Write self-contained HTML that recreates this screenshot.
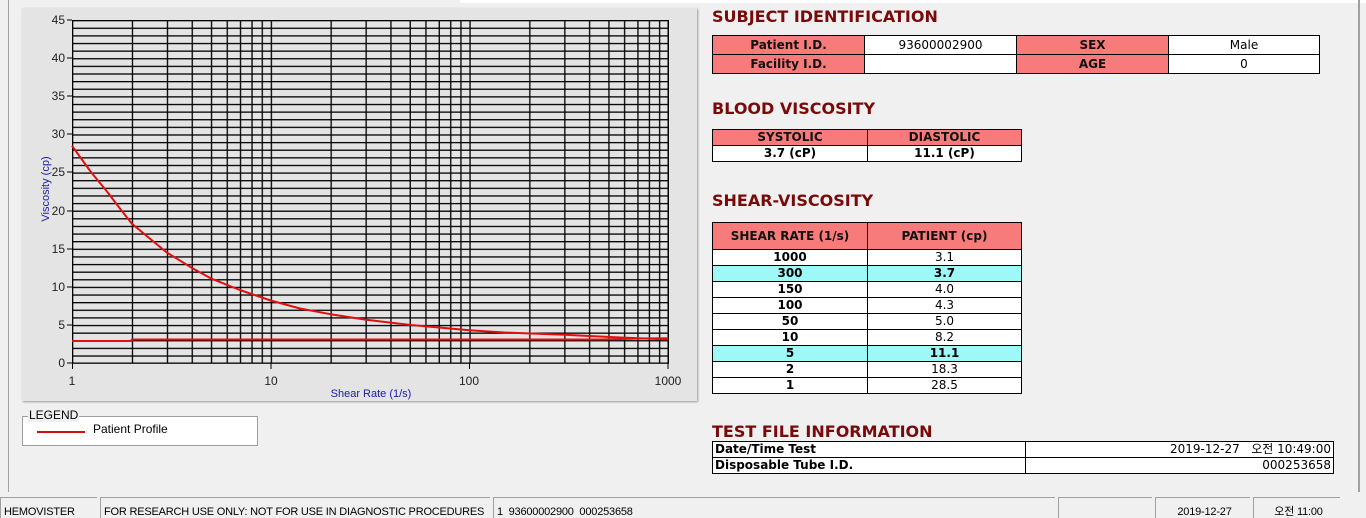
<!DOCTYPE html>
<html><head><meta charset="utf-8"><style>
body{margin:0;width:1366px;height:518px;background:#f0f0f0;position:relative;overflow:hidden;font-family:"Liberation Sans","Noto Sans CJK KR",sans-serif;}
.abs{position:absolute}
.h{position:absolute;color:#7a0a0a;font-weight:bold;font-size:16px;font-family:"DejaVu Sans","Liberation Sans",sans-serif;}
table{position:absolute;border-collapse:collapse;font-size:12px;font-family:"DejaVu Sans","Liberation Sans",sans-serif}
td{border:1px solid #000;padding:0;text-align:center;line-height:13px}
.p{background:#f77b7b;font-weight:bold;color:#111}
.w{background:#fff}
.c td{background:#9ff8f8;font-weight:bold}
.s td{height:15px}
.sb{position:absolute;top:497px;height:21px;border-top:1px solid #a0a0a0;border-left:1px solid #a0a0a0;font-size:11px;letter-spacing:-0.2px;line-height:28px;padding-left:3px;box-sizing:border-box;white-space:nowrap;overflow:hidden}
</style></head><body>
<div class="abs" style="left:460px;top:0;width:906px;height:3px;background:#fff"></div>
<div class="abs" style="left:8px;top:0;width:1px;height:492px;background:#a0a0a0"></div>
<div class="abs" style="left:1358px;top:0;width:2px;height:492px;background:#a0a0a0"></div>
<div class="abs" style="left:22px;top:8px;width:675px;height:393px;background:#e4e4e4;box-shadow:1px 1px 2px #999"></div>
<svg class="abs" style="left:0;top:0" width="700" height="405">
<defs>
<pattern id="hp" x="0" y="20" width="600" height="7.622" patternUnits="userSpaceOnUse"><rect x="0" y="0" width="600" height="1.3" fill="#000"/></pattern>
<pattern id="vp" x="72" y="0" width="198.7" height="400" patternUnits="userSpaceOnUse">
<g fill="#000"><rect x="0" width="1.3" height="400"/><rect x="59.8" width="1.3" height="400"/><rect x="94.8" width="1.3" height="400"/><rect x="119.6" width="1.3" height="400"/><rect x="138.9" width="1.3" height="400"/><rect x="154.6" width="1.3" height="400"/><rect x="167.9" width="1.3" height="400"/><rect x="179.4" width="1.3" height="400"/><rect x="189.6" width="1.3" height="400"/></g></pattern>
</defs>
<rect x="72" y="20" width="596" height="343" fill="url(#hp)"/>
<rect x="72" y="20" width="597" height="343" fill="url(#vp)"/>
<rect x="667.5" y="20" width="1.3" height="343" fill="#000"/>
<rect x="72" y="362.5" width="597" height="1.3" fill="#000"/>
<g stroke="#000" stroke-width="1"><line x1="67" y1="20" x2="72" y2="20"/><line x1="67" y1="58" x2="72" y2="58"/><line x1="67" y1="96" x2="72" y2="96"/><line x1="67" y1="134" x2="72" y2="134"/><line x1="67" y1="172" x2="72" y2="172"/><line x1="67" y1="211" x2="72" y2="211"/><line x1="67" y1="249" x2="72" y2="249"/><line x1="67" y1="287" x2="72" y2="287"/><line x1="67" y1="325" x2="72" y2="325"/><line x1="67" y1="363" x2="72" y2="363"/>
<line x1="72.5" y1="363" x2="72.5" y2="369"/><line x1="271" y1="363" x2="271" y2="369"/><line x1="469.5" y1="363" x2="469.5" y2="369"/><line x1="668" y1="363" x2="668" y2="369"/></g>
<g font-size="12" fill="#222" text-anchor="end" font-family="Liberation Sans,sans-serif">
<text x="65" y="24">45</text><text x="65" y="62">40</text><text x="65" y="100">35</text><text x="65" y="138">30</text><text x="65" y="176">25</text><text x="65" y="215">20</text><text x="65" y="253">15</text><text x="65" y="291">10</text><text x="65" y="329">5</text><text x="65" y="367">0</text></g>
<g font-size="12" fill="#222" text-anchor="middle" font-family="Liberation Sans,sans-serif">
<text x="72" y="385">1</text><text x="271" y="385">10</text><text x="469" y="385">100</text><text x="668" y="385">1000</text></g>
<text x="371" y="397" font-size="11" fill="#1a1aa8" text-anchor="middle" font-family="Liberation Sans,sans-serif">Shear Rate (1/s)</text>
<text x="0" y="0" font-size="11" fill="#1a1aa8" text-anchor="middle" font-family="Liberation Sans,sans-serif" transform="translate(49,189) rotate(-90)">Viscosity (cp)</text>
<polyline fill="none" stroke="#e01010" stroke-width="2" stroke-linejoin="round" points="72,145.8 91.3,172.5 107,191.5 120.3,209 131.8,223.6 151.1,239.6 166.8,252.5 191.6,267.7 210.9,278.4 239.9,290 270.7,300.5 300,308.5 330.5,314.2 365.5,319.6 409.6,324.9 469.4,330.2 504.4,332.5 564.2,334.8 620,337.5 668,339.4"/>
<polyline fill="none" stroke="#e01010" stroke-width="2" points="72,341 131,341 132,339.5 600,339.5 640,338.5 668,338.3"/>
</svg>
<div class="abs" style="left:22px;top:416px;width:234px;height:28px;border:1px solid #a0a0a0;background:#fff"></div>
<div class="abs" style="left:28px;top:408px;font-size:12px;background:#f0f0f0;padding:0 1px">LEGEND</div>
<div class="abs" style="left:37px;top:431px;width:48px;height:2px;background:#d01010"></div>
<div class="abs" style="left:93px;top:422px;font-size:12px">Patient Profile</div>

<div class="h" style="left:712px;top:7px">SUBJECT IDENTIFICATION</div>
<table style="left:712px;top:35px;width:608px"><tr><td class="p" style="width:151px;height:18px">Patient I.D.</td><td class="w" style="width:151px">93600002900</td><td class="p" style="width:151px">SEX</td><td class="w">Male</td></tr>
<tr><td class="p" style="height:18px">Facility I.D.</td><td class="w"></td><td class="p">AGE</td><td class="w">0</td></tr></table>
<div class="h" style="left:712px;top:99px">BLOOD VISCOSITY</div>
<table style="left:712px;top:129px;width:310px" class="s"><tr><td class="p" style="width:154px">SYSTOLIC</td><td class="p">DIASTOLIC</td></tr>
<tr><td class="w" style="font-weight:bold">3.7 (cP)</td><td class="w" style="font-weight:bold">11.1 (cP)</td></tr></table>
<div class="h" style="left:712px;top:191px">SHEAR-VISCOSITY</div>
<table style="left:712px;top:222px;width:310px" class="s"><tr><td class="p" style="width:154px;height:26px">SHEAR RATE (1/s)</td><td class="p">PATIENT (cp)</td></tr>
<tr class="w"><td style="font-weight:bold">1000</td><td>3.1</td></tr>
<tr class="c"><td>300</td><td>3.7</td></tr>
<tr class="w"><td style="font-weight:bold">150</td><td>4.0</td></tr>
<tr class="w"><td style="font-weight:bold">100</td><td>4.3</td></tr>
<tr class="w"><td style="font-weight:bold">50</td><td>5.0</td></tr>
<tr class="w"><td style="font-weight:bold">10</td><td>8.2</td></tr>
<tr class="c"><td>5</td><td>11.1</td></tr>
<tr class="w"><td style="font-weight:bold">2</td><td>18.3</td></tr>
<tr class="w"><td style="font-weight:bold">1</td><td>28.5</td></tr></table>
<div class="h" style="left:712px;top:422px">TEST FILE INFORMATION</div>
<table style="left:712px;top:441px;width:622px" class="s"><tr><td style="width:310px;text-align:left;font-weight:bold;background:#fff;padding-left:2px">Date/Time Test</td><td style="text-align:right;background:#fff;padding-right:2px">2019-12-27&nbsp;&nbsp; 오전 10:49:00</td></tr>
<tr><td style="text-align:left;font-weight:bold;background:#fff;padding-left:2px">Disposable Tube I.D.</td><td style="text-align:right;background:#fff;padding-right:2px">000253658</td></tr></table>

<div class="sb" style="left:0;width:97px">HEMOVISTER</div>
<div class="sb" style="left:100px;width:390px">FOR RESEARCH USE ONLY: NOT FOR USE IN DIAGNOSTIC PROCEDURES</div>
<div class="sb" style="left:493px;width:562px">1&nbsp; 93600002900&nbsp; 000253658</div>
<div class="sb" style="left:1058px;width:94px"></div>
<div class="sb" style="left:1155px;width:95px;text-align:center">2019-12-27</div>
<div class="sb" style="left:1253px;width:87px;text-align:center">오전 11:00</div>
</body></html>
